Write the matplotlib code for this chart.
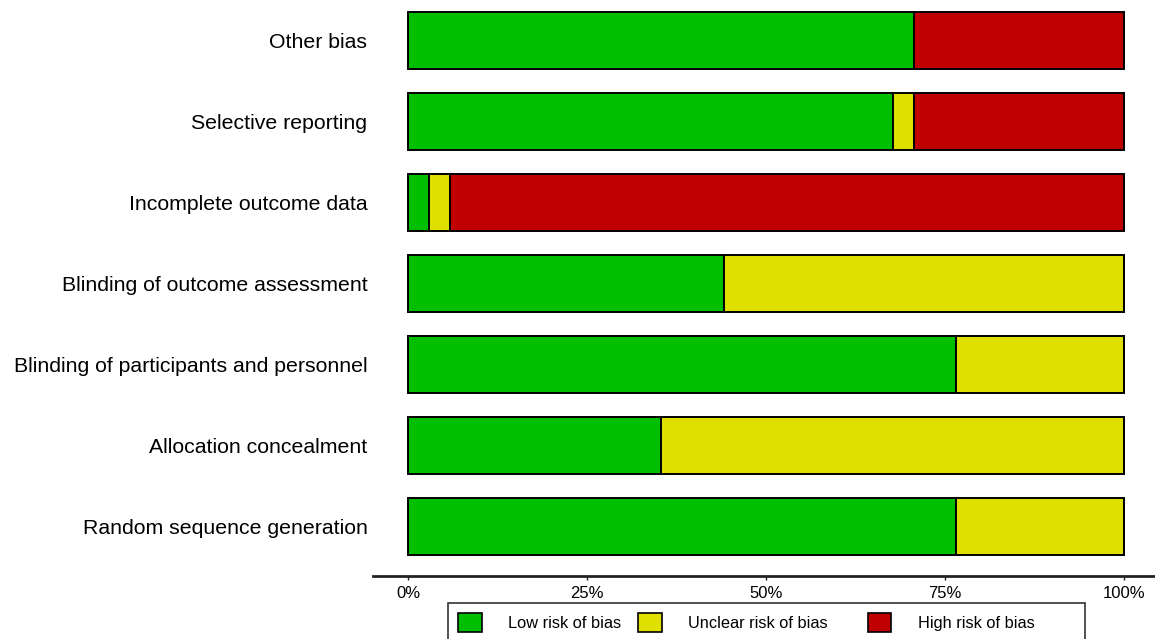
import numpy as np
import matplotlib.pyplot as plt
from matplotlib.patches import Patch

plt.rcParams['font.family'] = ['Liberation Sans', 'DejaVu Sans']

# risk of bias domains, bottom to top
domains = ['Random sequence generation', 'Allocation concealment',
           'Blinding of participants and personnel', 'Blinding of outcome assessment',
           'Incomplete outcome data', 'Selective reporting', 'Other bias']
n_studies = 34
low = np.array([26, 12, 26, 15, 1, 23, 24])
unclear = np.array([8, 22, 8, 19, 1, 1, 0])
high = np.array([0, 0, 0, 0, 32, 10, 10])

levels = ['Low risk of bias', 'Unclear risk of bias', 'High risk of bias']
colors = ['#00bf00', '#e0e000', '#c00000']

fig = plt.figure(figsize=(11.55, 6.39), dpi=100)
ax = fig.add_axes([373/1155, 63/639, 1 - 373/1155, 576/639])

y = np.arange(len(domains))
left = np.zeros(len(domains))
for counts, col in zip([low, unclear, high], colors):
    frac = counts / n_studies
    ax.barh(y, frac, left=left, height=0.7, color=col, edgecolor='black', linewidth=1.4)
    left = left + frac

ax.set_xlim(-0.049, 1.043)
ax.set_ylim(-0.611, 6.5)
ax.set_yticks(y)
ax.set_yticklabels(domains, fontsize=15.3)
ax.tick_params(axis='y', length=0, pad=4)
ax.set_xticks([0, 0.25, 0.5, 0.75, 1.0])
ax.set_xticklabels(['0%', '25%', '50%', '75%', '100%'], fontsize=12)
ax.tick_params(axis='x', length=3, width=1, color='#222222', pad=4)

for s in ['top', 'right', 'left']:
    ax.spines[s].set_visible(False)
ax.spines['bottom'].set_linewidth(2)
ax.spines['bottom'].set_color('#222222')

# legend columns are uneven in width, padded with trailing spaces
leg_labels = [levels[0], levels[1] + ' ' * 5, levels[2] + ' ' * 9]
handles = [Patch(facecolor=c, edgecolor='black', linewidth=1.2) for c in colors]
leg = fig.legend(handles, leg_labels, loc='upper center', ncol=3,
                 bbox_to_anchor=(766.5/1155, 1 - 603/639), borderaxespad=0,
                 fontsize=11.8, frameon=True, fancybox=False, edgecolor='black',
                 handlelength=1.45, handleheight=1.45, handletextpad=1.6,
                 columnspacing=1.05, borderpad=0.6)
leg.get_frame().set_linewidth(1.2)

fig.savefig('out.png', dpi=100)
